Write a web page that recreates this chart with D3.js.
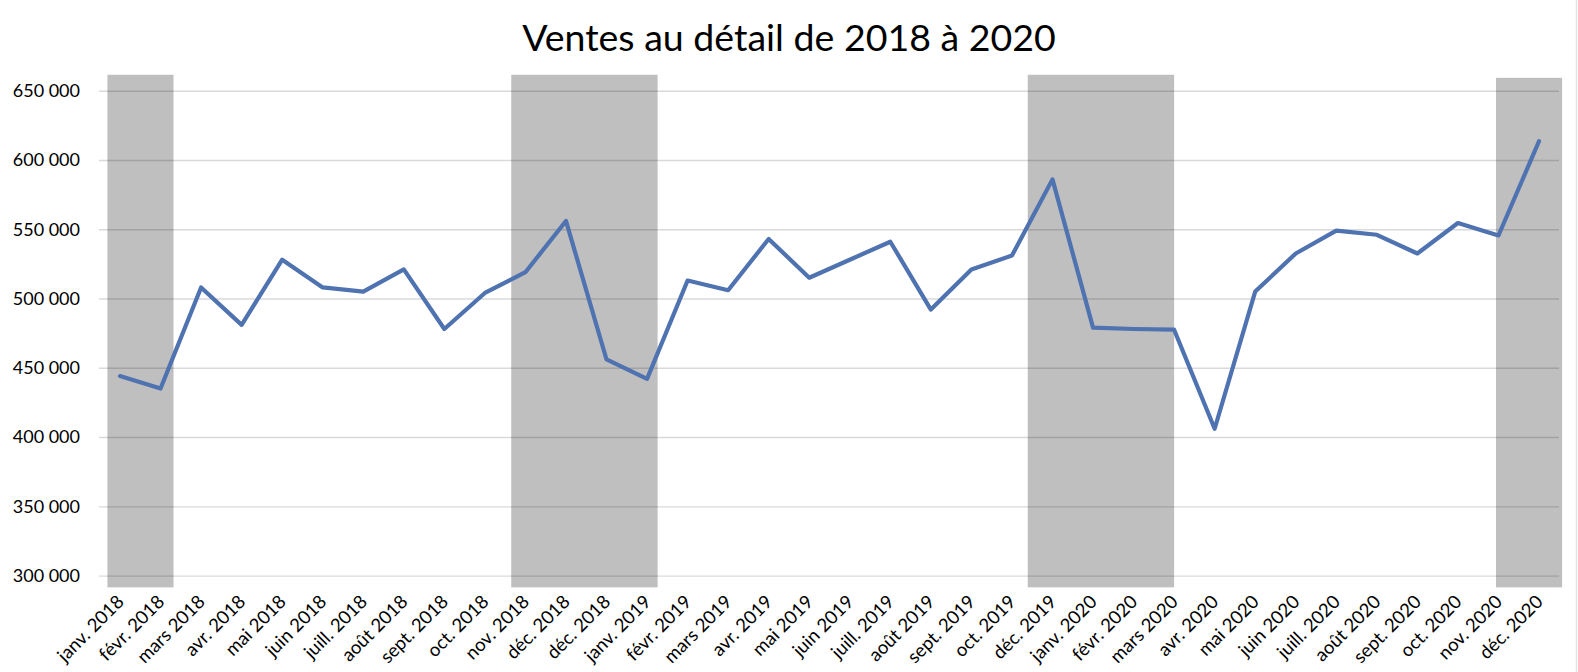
<!DOCTYPE html>
<html>
<head>
<meta charset="utf-8">
<script src="https://cdn.jsdelivr.net/npm/d3@7"></script>
<style>
  html, body { margin: 0; padding: 0; background: #fff; }
  svg { display: block; }
  text { font-family: Lato, "Open Sans", sans-serif; fill: #000; }
</style>
</head>
<body>
<svg id="chart" width="1578" height="672"></svg>
<script>
// ---- data ----
const title = "Ventes au détail de 2018 à 2020";
const categories = [
  "janv. 2018", "févr. 2018", "mars 2018", "avr. 2018", "mai 2018", "juin 2018",
  "juill. 2018", "août 2018", "sept. 2018", "oct. 2018", "nov. 2018", "déc. 2018",
  "déc. 2018", "janv. 2019", "févr. 2019", "mars 2019", "avr. 2019", "mai 2019",
  "juin 2019", "juill. 2019", "août 2019", "sept. 2019", "oct. 2019", "déc. 2019",
  "janv. 2020", "févr. 2020", "mars 2020", "avr. 2020", "mai 2020", "juin 2020",
  "juill. 2020", "août 2020", "sept. 2020", "oct. 2020", "nov. 2020", "déc. 2020"
];
const sales = [
  444000, 435000, 508000, 481000, 528000, 508000,
  505000, 521000, 478000, 504000, 519000, 556000,
  456000, 442000, 513000, 506000, 543000, 515000,
  528000, 541000, 492000, 521000, 531000, 586000,
  479000, 478000, 477500, 406000, 505000, 532500,
  549000, 546000, 532500, 554500, 545500, 613500
];
const yTicks = [300000, 350000, 400000, 450000, 500000, 550000, 600000, 650000];
// shaded periods, in category-index units (start, end)
const bandStart = [-0.31, 9.65, 22.39, 33.94];
const bandEnd   = [ 1.32, 13.26, 26.0, 35.57];
const bandTopValue = [661500, 661500, 661500, 659300];
const bandBottomValue = 291500;

// ---- layout ----
const svg = d3.select("#chart");
const W = 1578, H = 672;

const x = d3.scaleLinear().domain([0, categories.length - 1]).range([120, 1539]);
const y = d3.scaleLinear().domain([300000, 650000]).range([575.6, 90.7]);

const fr = d3.formatLocale({ decimal: ",", thousands: "\u00a0", grouping: [3], currency: ["", " €"] });
const fmt = fr.format(",d");

// faint right border
svg.append("line")
  .attr("x1", 1576.5).attr("x2", 1576.5).attr("y1", 0).attr("y2", H)
  .attr("stroke", "#e4e4e4").attr("stroke-width", 1.5);

// title
svg.append("text")
  .attr("x", W / 2).attr("y", 51)
  .attr("text-anchor", "middle")
  .attr("font-size", 37.5)
  .text(title);

// bands
svg.append("g").selectAll("rect")
  .data(bandStart.map((s, i) => ({ s, e: bandEnd[i], t: bandTopValue[i] })))
  .join("rect")
  .attr("x", d => x(d.s))
  .attr("width", d => x(d.e) - x(d.s))
  .attr("y", d => y(d.t))
  .attr("height", d => y(bandBottomValue) - y(d.t))
  .attr("fill", "#bfbfbf");

// y axis gridlines + labels
const yAxis = d3.axisLeft(y).tickValues(yTicks).tickFormat(fmt)
  .tickSize(-(1559 - 99)).tickPadding(19);
const gy = svg.append("g").attr("transform", "translate(99,0)").call(yAxis);
gy.select(".domain").remove();
gy.selectAll(".tick line").attr("stroke", "rgba(0,0,0,0.15)").attr("stroke-width", 1.4);
gy.selectAll(".tick text").attr("font-size", 18).attr("font-family", "Lato, 'Open Sans', sans-serif").attr("fill", "#000");

// x axis labels
const xAxis = d3.axisBottom(x).tickValues(d3.range(categories.length))
  .tickFormat(i => categories[i]).tickSize(0).tickPadding(0);
const gx = svg.append("g").call(xAxis);
gx.select(".domain").remove();
gx.selectAll(".tick").attr("transform", d => `translate(${x(d) + 5},603)`);
gx.selectAll(".tick text")
  .attr("font-size", 18.5)
  .attr("font-family", "Lato, 'Open Sans', sans-serif")
  .attr("fill", "#000")
  .attr("text-anchor", "end")
  .attr("dy", 0).attr("y", 0).attr("x", 0)
  .attr("transform", "rotate(-45)");

// line
const line = d3.line().x((d, i) => x(i)).y(d => y(d));
svg.append("path")
  .datum(sales)
  .attr("d", line)
  .attr("fill", "none")
  .attr("stroke", "#4f72b0")
  .attr("stroke-width", 4.2)
  .attr("stroke-linejoin", "round")
  .attr("stroke-linecap", "round");
</script>
</body>
</html>
